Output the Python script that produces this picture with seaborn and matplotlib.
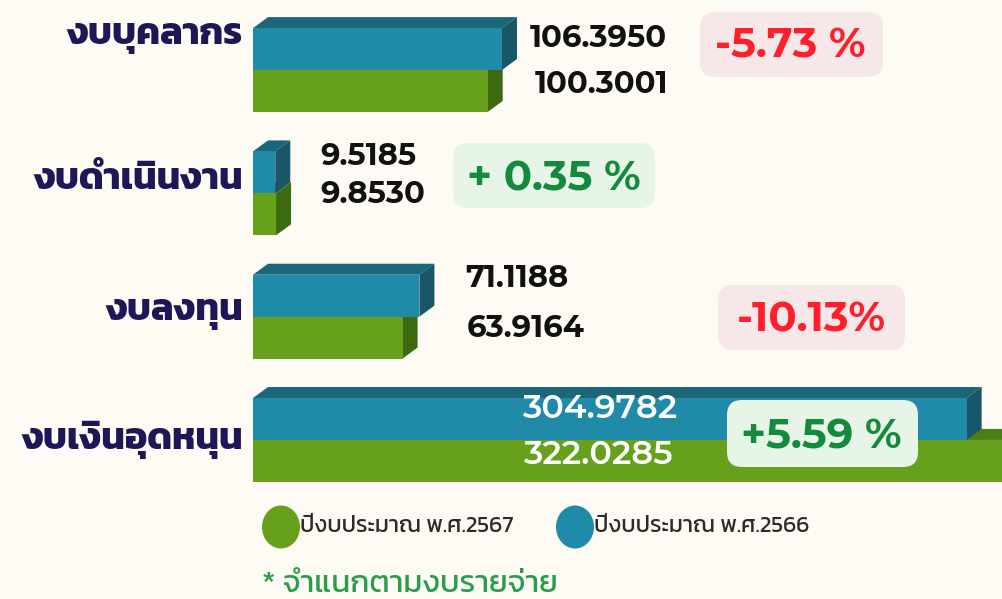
import matplotlib
matplotlib.use("Agg")
import numpy as np
import pandas as pd
import seaborn as sns
import matplotlib.pyplot as plt
from matplotlib.patches import Polygon, Ellipse, FancyBboxPatch
from matplotlib.transforms import IdentityTransform

# data
categories = ["งบบุคลากร", "งบดำเนินงาน", "งบลงทุน", "งบเงินอุดหนุน"]
budget_2566 = [106.3950, 9.5185, 71.1188, 304.9782]
budget_2567 = [100.3001, 9.8530, 63.9164, 322.0285]
pct_labels = ["-5.73 %", "+ 0.35 %", "-10.13%", "+5.59 %"]
legend_labels = ["ปีงบประมาณ พ.ศ.2567", "ปีงบประมาณ พ.ศ.2566"]
footnote = "* จำแนกตามงบรายจ่าย"

BG = "#fdfbf3"
BLUE, BLUE_TOP, BLUE_SIDE = "#1f8ba8", "#1c6679", "#1a5667"
GREEN, GREEN_TOP, GREEN_SIDE = "#67a11b", "#4c7e14", "#3d6a11"
NAVY = "#1f1657"
NUMFONT = ["Montserrat Alternates", "Kanit"]

df = pd.DataFrame({
    "cat": categories * 2,
    "year": ["2566"] * 4 + ["2567"] * 4,
    "value": budget_2566 + budget_2567,
})

sns.set_style("white")
plt.rcParams["font.family"] = ["Kanit", "DejaVu Sans"]

W, H = 1003, 599
fig = plt.figure(figsize=(W / 100, H / 100), dpi=100, facecolor=BG)
ax = fig.add_axes([253 / W, 0, 1 - 253 / W, 1])
ax.set_facecolor(BG)

sns.barplot(data=df, y="cat", x="value", hue="year", hue_order=["2566", "2567"],
            palette=[BLUE, GREEN], width=0.68, orient="h", legend=False,
            saturation=1, ax=ax, zorder=2)

ax.set_xlim(0, 750 / 2.34)
ax.set_ylim(4.29, -0.568)
ax.axis("off")


def px(x, y):
    return x / W, 1 - y / H


# 3d faces
dx, dy = 15 / 2.34, 11 / 123.3
patches = list(ax.patches)
for p in patches:
    is_blue = np.allclose(p.get_facecolor()[:3], matplotlib.colors.to_rgb(BLUE), atol=0.02)
    w, top, h = p.get_width(), p.get_y(), p.get_height()
    bot = top + h
    ztop = 3 if is_blue else 1
    p.set_zorder(4 if is_blue else 2)
    p.set_edgecolor("none")
    ax.add_patch(Polygon([(0, top), (dx, top - dy), (w + dx, top - dy), (w, top)],
                         closed=True, fc=BLUE_TOP if is_blue else GREEN_TOP, ec="none", zorder=ztop))
    ax.add_patch(Polygon([(w, top), (w + dx, top - dy), (w + dx, bot - dy), (w, bot)],
                         closed=True, fc=BLUE_SIDE if is_blue else GREEN_SIDE, ec="none", zorder=ztop))

# category labels
label_dy = [-0.27, -0.11, -0.03, 0.0]
for i, c in enumerate(categories):
    ax.text(-10 / 2.34, i + label_dy[i], c, ha="right", va="center", fontsize=27,
            fontweight="bold", color=NAVY, clip_on=False)

# value labels (pixel layout)
val_pos = [((530, 38), (535, 84)), ((320, 156), (320, 194)),
           ((465, 278), (467, 328))]
for i, (pb, pg) in enumerate(val_pos):
    fig.text(*px(*pb), f"{budget_2566[i]:.4f}", ha="left", va="center", fontsize=22,
             fontweight="bold", family=NUMFONT, color="#111111")
    fig.text(*px(*pg), f"{budget_2567[i]:.4f}", ha="left", va="center", fontsize=22,
             fontweight="bold", family=NUMFONT, color="#111111")
fig.text(*px(600, 409), f"{budget_2566[3]:.4f}", ha="center", va="center", fontsize=24,
         fontweight="semibold", family=NUMFONT, color="white", zorder=10)
fig.text(*px(598, 455), f"{budget_2567[3]:.4f}", ha="center", va="center", fontsize=24,
         fontweight="semibold", family=NUMFONT, color="white", zorder=10)

# percent boxes: (x0, y0, x1, y1) in pixels, text centre
box_px = [(700, 12, 883, 77), (453, 143, 655, 208), (718, 285, 905, 350), (727, 400, 918, 467)]
pct_pos = [(790, 46), (554, 179), (811, 320), (821, 437)]
for i, s in enumerate(pct_labels):
    neg = s.startswith("-")
    tc = "#ff1e2b" if neg else "#148a3c"
    bc = "#f6e8e8" if neg else "#e6f5e8"
    x0, y0, x1, y1 = box_px[i]
    fig.add_artist(FancyBboxPatch((x0, H - y1), x1 - x0, y1 - y0,
                                  boxstyle="round,pad=0,rounding_size=15",
                                  transform=IdentityTransform(), fc=bc, ec="none", zorder=5))
    fig.text(*px(*pct_pos[i]), s, ha="center", va="center", fontsize=30, fontweight="bold",
             family=NUMFONT, color=tc, zorder=10)

# legend
for (cx, cy), col, lab in [((281, 527), GREEN, legend_labels[0]), ((575, 527), BLUE, legend_labels[1])]:
    fig.add_artist(Ellipse(px(cx, cy), 38 / W, 43 / H, transform=fig.transFigure,
                           fc=col, ec="none"))
    fig.text(*px(cx + 19, cy), lab, ha="left", va="center", fontsize=16.5, color="#2b2b2b",
             fontweight="normal")

fig.text(*px(262, 584), footnote, ha="left", va="center", fontsize=22.5, color="#2a9d4c",
         fontweight="normal")

fig.savefig("out.png", dpi=100, facecolor=BG)
